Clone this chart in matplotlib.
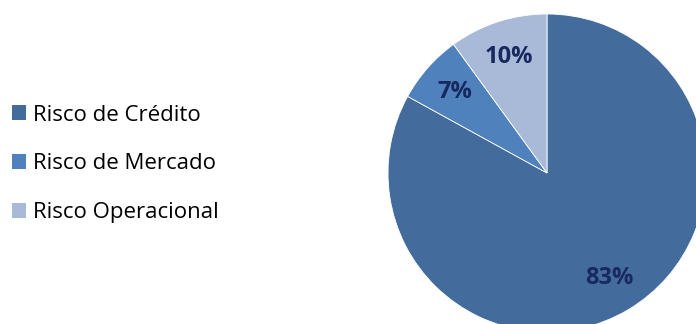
import matplotlib
matplotlib.use("Agg")
import matplotlib.pyplot as plt
from matplotlib.patches import Patch

categories = ["Risco de Crédito", "Risco de Mercado", "Risco Operacional"]
values = [83, 7, 10]
colors = ["#436B9C", "#4F81BD", "#A9B9D8"]

plt.rcParams['font.family'] = ['Open Sans', 'DejaVu Sans']

W, H = 696, 324
fig = plt.figure(figsize=(W/100, H/100), dpi=100)
cx, cy, r = 547, 173, 159
ax = fig.add_axes([(cx - r)/W, (H - cy - r)/H, 2*r/W, 2*r/H])
wedges, texts, autotexts = ax.pie(
    values, colors=colors, startangle=90, counterclock=False,
    autopct=lambda p: f"{p:.0f}%", pctdistance=0.77,
    wedgeprops=dict(edgecolor="white", linewidth=0.6),
    textprops=dict(color="#17295E", fontsize=17, fontweight="bold"))
ax.set_xlim(-1, 1)
ax.set_ylim(-1, 1)
ax.set_aspect("equal")
ax.axis("off")

handles = [Patch(facecolor=c, edgecolor="none") for c in colors]
fig.legend(handles, categories, loc="center left", bbox_to_anchor=(-0.004, 0.494),
           frameon=False, fontsize=16, labelspacing=1.25, handlelength=0.65,
           handleheight=0.65, handletextpad=0.3, borderaxespad=0.25)

fig.savefig("out.png", dpi=100)
